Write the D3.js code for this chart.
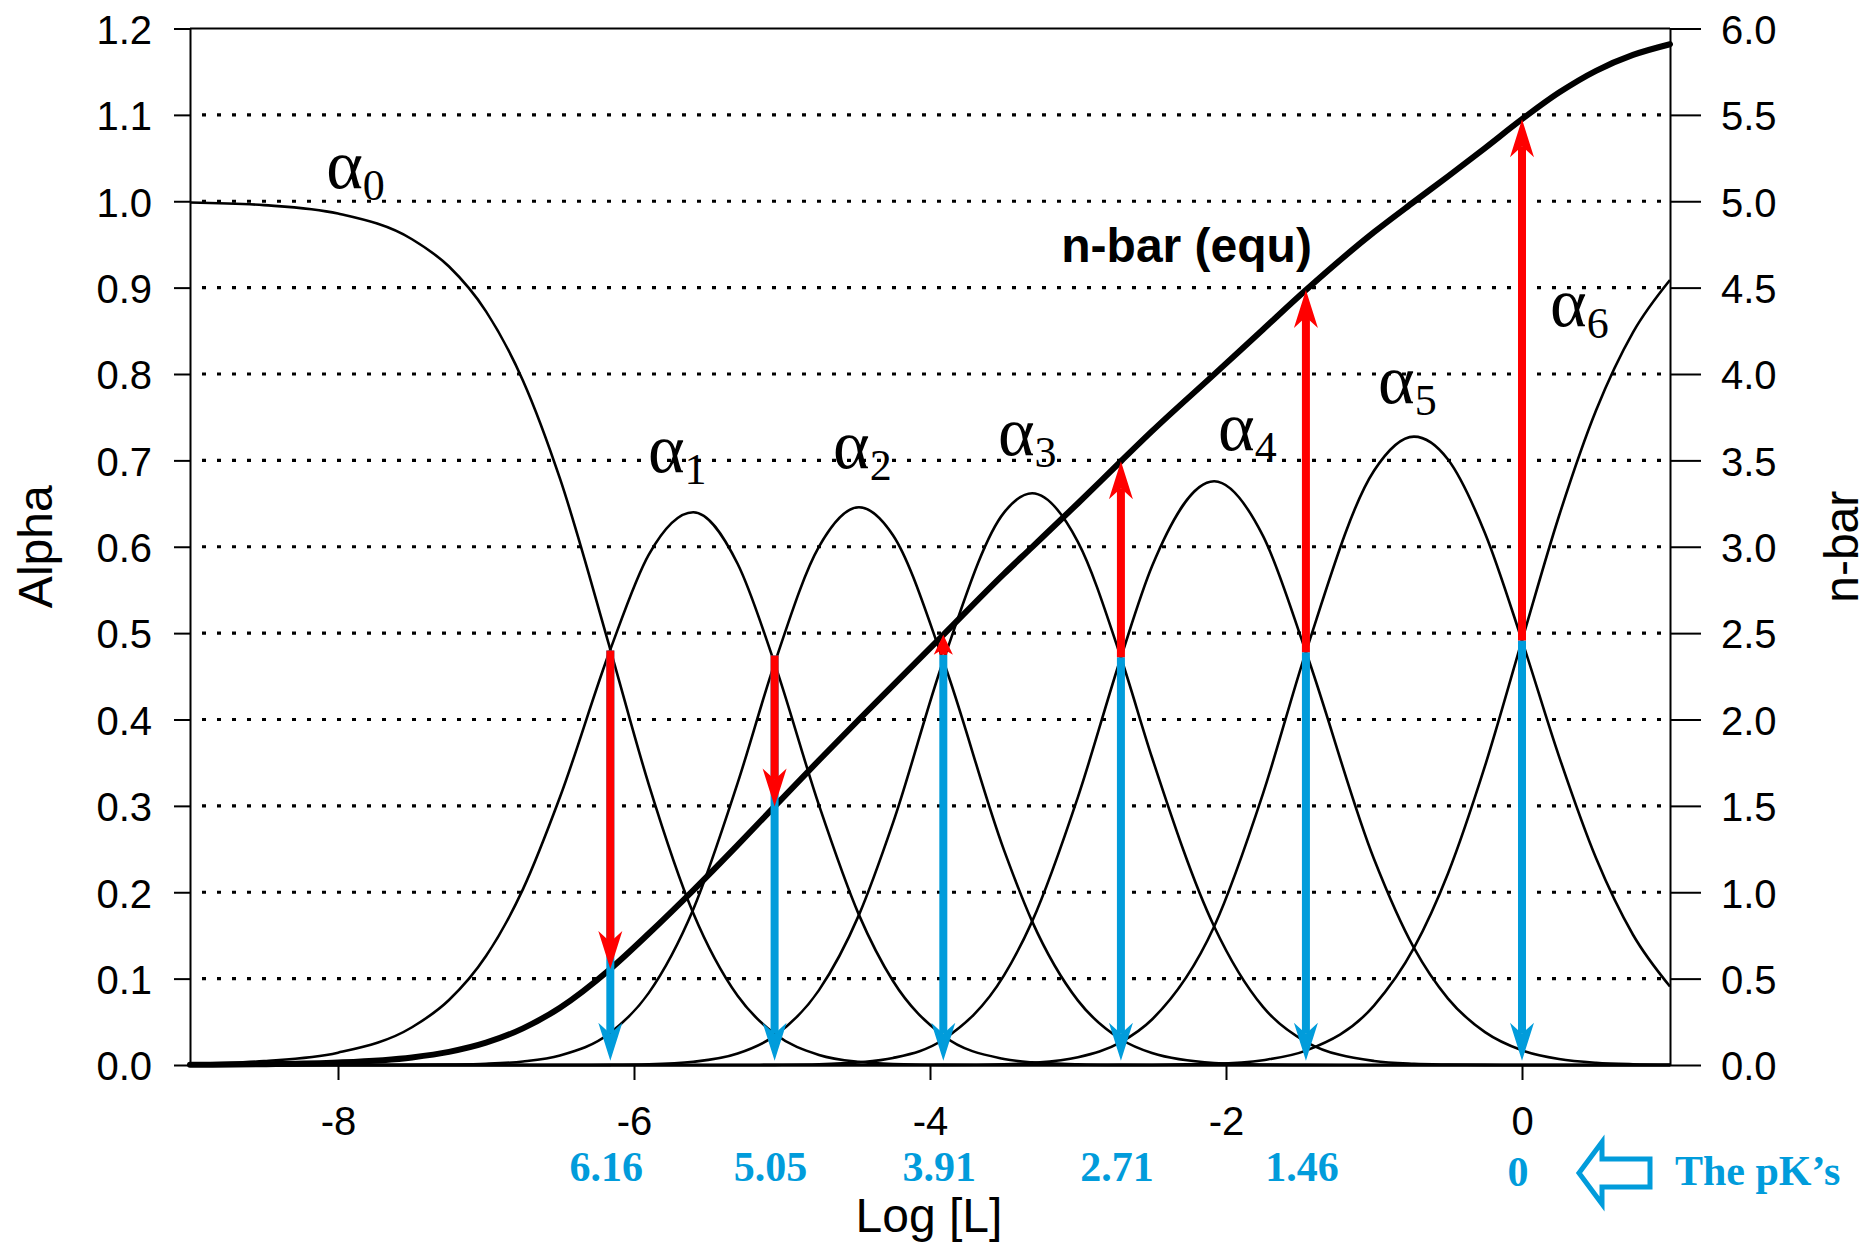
<!DOCTYPE html>
<html>
<head>
<meta charset="utf-8">
<script src="https://cdn.jsdelivr.net/npm/d3@7"></script>
<style>
  body { margin: 0; background: #fff; }
  svg { display: block; }
</style>
</head>
<body>
<svg id="chart"></svg>
<script>
// log [L] sample points and the fractions
const logL = [-9, -8.5, -8, -7.5, -7.25, -7, -6.75, -6.5, -6.16, -5.9, -5.6, -5.3, -5.05, -4.75, -4.48, -4.25,
  -3.91, -3.5, -3.31, -3, -2.71, -2.5, -2.08, -1.75, -1.46, -1, -0.73, -0.5, -0.25, 0, 0.25, 0.5, 0.75, 1];

const alpha0 = [0.9986, 0.9955, 0.9857, 0.956, 0.9244, 0.8725, 0.7923, 0.6788, 0.481, 0.3247, 0.176, 0.0801, 0.0361, 0.0117, 0.0036, 0.0012,
  0.0002, 0, 0, 0, 0, 0, 0, 0, 0, 0, 0, 0, 0, 0, 0, 0, 0, 0];
const alpha1 = [0.0014, 0.0046, 0.0143, 0.0437, 0.0752, 0.1261, 0.2036, 0.3102, 0.481, 0.591, 0.640, 0.5803, 0.465, 0.3007, 0.1738, 0.0972,
  0.0339, 0.0070, 0.003, 0.0007, 0.0001, 0, 0, 0, 0, 0, 0, 0, 0, 0, 0, 0, 0, 0];
const alpha2 = [0, 0, 0, 0.0002, 0.0005, 0.0014, 0.0041, 0.0110, 0.0373, 0.0835, 0.180, 0.3263, 0.465, 0.6001, 0.6458, 0.6133,
  0.468, 0.2488, 0.1663, 0.0745, 0.0298, 0.0139, 0.0024, 0.0005, 0.0001, 0, 0, 0, 0, 0, 0, 0, 0, 0];
const alpha3 = [0, 0, 0, 0, 0, 0, 0, 0, 0.0002, 0.0008, 0.0037, 0.0133, 0.0337, 0.0867, 0.1738, 0.2803,
  0.468, 0.6395, 0.662, 0.6054, 0.4718, 0.356, 0.1603, 0.0672, 0.0269, 0.0047, 0.0014, 0.0005, 0.0001, 0, 0, 0, 0, 0];
const alpha4 = [0, 0, 0, 0, 0, 0, 0, 0, 0, 0, 0, 0, 0.0002, 0.0008, 0.003, 0.0081,
  0.0295, 0.1037, 0.1663, 0.3105, 0.4718, 0.5773, 0.6758, 0.6126, 0.4784, 0.2385, 0.1355, 0.0769, 0.038, 0.017, 0.007, 0.0026, 0.0009, 0.0003];
const alpha5 = [0, 0, 0, 0, 0, 0, 0, 0, 0, 0, 0, 0, 0, 0, 0, 0,
  0.0001, 0.0009, 0.0024, 0.009, 0.0265, 0.0527, 0.1603, 0.3142, 0.4784, 0.688, 0.7275, 0.701, 0.6157, 0.4915, 0.3574, 0.2396, 0.1508, 0.0909];
const alpha6 = [0, 0, 0, 0, 0, 0, 0, 0, 0, 0, 0, 0, 0, 0, 0, 0,
  0, 0, 0, 0, 0.0001, 0.0002, 0.0013, 0.0056, 0.0166, 0.0688, 0.1355, 0.2217, 0.3462, 0.4915, 0.6356, 0.7577, 0.8482, 0.9088];

const nbar = [0.0014, 0.0046, 0.0143, 0.044, 0.076, 0.129, 0.212, 0.332, 0.556, 0.761, 1.011, 1.273, 1.497, 1.764, 2.00, 2.197,
  2.49, 2.843, 2.998, 3.252, 3.495, 3.669, 3.998, 4.258, 4.486, 4.821, 4.997, 5.144, 5.308, 5.475, 5.629, 5.755, 5.847, 5.909];

// the pK's, where neighbouring alphas cross, and n-bar at that point
const pKs = [6.16, 5.05, 3.91, 2.71, 1.46, 0];
const pKLabels = ["6.16", "5.05", "3.91", "2.71", "1.46", "0"];
const crossAlpha = [0.48, 0.474, 0.475, 0.472, 0.478, 0.4915];
const nbarAtPK = [0.556, 1.497, 2.49, 3.495, 4.486, 5.475];

// species labels: subscript and anchor (log L, alpha)
const speciesNames = ["0", "1", "2", "3", "4", "5", "6"];
const labelLogL = [-8.08, -5.906, -4.655, -3.541, -2.054, -0.973, 0.189];
const labelAlpha = [1.015, 0.686, 0.691, 0.706, 0.712, 0.767, 0.856];

const alphaTicks = d3.range(0, 1.21, 0.1);
const nbarTicks = d3.range(0, 6.01, 0.5);
const xTicks = [-8, -6, -4, -2, 0];
const gridAlpha = d3.range(0.1, 1.11, 0.1);

const width = 1868, height = 1242;
const sans = "'Liberation Sans', Arial, Helvetica, sans-serif";
const serif = "'Liberation Serif', 'Times New Roman', Times, serif";
const blue = "#019cdb", red = "#ff0000";

const svg = d3.select("#chart").attr("width", width).attr("height", height);
svg.append("rect").attr("width", width).attr("height", height).attr("fill", "#fff");

const x = d3.scaleLinear().domain([-9, 1]).range([190, 1670]);
const y = d3.scaleLinear().domain([0, 1.2]).range([1065, 28.5]);
const y2 = d3.scaleLinear().domain([0, 6]).range([1065, 28.5]);

// dotted gridlines
svg.append("g").selectAll("line").data(gridAlpha).join("line")
  .attr("x1", x(-9) + 12).attr("x2", x(1) - 8)
  .attr("y1", d => y(d)).attr("y2", d => y(d))
  .attr("stroke", "#000").attr("stroke-width", 3.2)
  .attr("stroke-dasharray", "4 11");

// frame
svg.append("line").attr("x1", x(-9)).attr("x2", x(1)).attr("y1", y(1.2)).attr("y2", y(1.2))
  .attr("stroke", "#000").attr("stroke-width", 2);

const styleAxis = g => {
  g.select(".domain").attr("stroke-width", 2);
  g.selectAll(".tick line").attr("stroke-width", 2);
  g.selectAll(".tick text").attr("font-family", sans).attr("font-size", 40).attr("fill", "#000");
};

svg.append("g").attr("transform", `translate(${x(-9)},0)`)
  .call(d3.axisLeft(y).tickValues(alphaTicks).tickFormat(d3.format(".1f")).tickSize(16).tickSizeOuter(0).tickPadding(22))
  .call(styleAxis)
  .call(g => g.selectAll(".tick text").attr("dy", "0.37em"));

svg.append("g").attr("transform", `translate(${x(1)},0)`)
  .call(d3.axisRight(y2).tickValues(nbarTicks).tickFormat(d3.format(".1f")).tickSize(31).tickSizeOuter(0).tickPadding(20))
  .call(styleAxis)
  .call(g => g.selectAll(".tick text").attr("dy", "0.37em"));

svg.append("g").attr("transform", `translate(0,${y(0)})`)
  .call(d3.axisBottom(x).tickValues(xTicks).tickFormat(d => String(d)).tickSize(15).tickSizeOuter(0).tickPadding(27))
  .call(styleAxis);

// species curves
const species = [alpha0, alpha1, alpha2, alpha3, alpha4, alpha5, alpha6];
const curve = d3.line()
  .x((d, i) => x(logL[i]))
  .y(d => y(d))
  .curve(d3.curveMonotoneX);

svg.append("g").selectAll("path").data(species).join("path")
  .attr("d", curve)
  .attr("fill", "none")
  .attr("stroke", "#000")
  .attr("stroke-width", 2.6)
  .attr("stroke-linejoin", "round");

// n-bar curve on the right axis
const nbarLine = d3.line()
  .x((d, i) => x(logL[i]))
  .y(d => y2(d))
  .curve(d3.curveMonotoneX);

svg.append("path").datum(nbar)
  .attr("d", nbarLine)
  .attr("fill", "none")
  .attr("stroke", "#000")
  .attr("stroke-width", 6)
  .attr("stroke-linecap", "round");

// arrows
const headLen = 38, headHalf = 12, notch = 11, shaftW = 8;
function arrow(g, px, yFrom, yTo, color) {
  const dir = yTo > yFrom ? 1 : -1;
  const len = Math.abs(yTo - yFrom);
  const k = Math.min(1, len / headLen);
  const L = headLen * k, hw = headHalf * Math.max(k, 0.8), n = notch * k;
  g.append("line")
    .attr("x1", px).attr("x2", px)
    .attr("y1", yFrom).attr("y2", yTo - dir * (L - n))
    .attr("stroke", color).attr("stroke-width", shaftW);
  g.append("path")
    .attr("d", `M${px},${yTo} L${px - hw},${yTo - dir * L} L${px},${yTo - dir * (L - n)} L${px + hw},${yTo - dir * L} Z`)
    .attr("fill", color);
}

const arrows = svg.append("g");
pKs.forEach((pk, i) => {
  arrow(arrows, x(-pk), y(crossAlpha[i]), y(0.005), blue);
});
pKs.forEach((pk, i) => {
  arrow(arrows, x(-pk), y(crossAlpha[i]), y2(nbarAtPK[i]), red);
});

// species labels
const lab = svg.append("g");
speciesNames.forEach((s, i) => {
  const t = lab.append("text")
    .attr("x", x(labelLogL[i]))
    .attr("y", y(labelAlpha[i]))
    .attr("font-family", serif)
    .attr("fill", "#000");
  t.append("tspan").attr("font-size", 70).text("α");
  t.append("tspan").attr("font-size", 44).attr("dy", 12).text(s);
});

// n-bar label
svg.append("text")
  .attr("x", x(-3.113)).attr("y", y(0.93))
  .attr("font-family", sans).attr("font-weight", "bold").attr("font-size", 48)
  .text("n-bar (equ)");

// pK labels
svg.append("g").selectAll("text").data(pKs).join("text")
  .attr("x", d => x(-d) - 4)
  .attr("y", (d, i) => i === pKs.length - 1 ? 1186 : 1181)
  .attr("text-anchor", "middle")
  .attr("font-family", serif).attr("font-weight", "bold").attr("font-size", 42)
  .attr("fill", blue)
  .text((d, i) => pKLabels[i]);

// hollow arrow pointing at the pK's
const ax = x(0) + 57, ay = 1173;
svg.append("path")
  .attr("d", `M${ax},${ay} L${ax + 23},${ay - 31} L${ax + 23},${ay - 14} L${ax + 71},${ay - 14} L${ax + 71},${ay + 14} L${ax + 23},${ay + 14} L${ax + 23},${ay + 31} Z`)
  .attr("fill", "#fff").attr("stroke", blue).attr("stroke-width", 5);

svg.append("text")
  .attr("x", x(1) + 5).attr("y", 1185)
  .attr("font-family", serif).attr("font-weight", "bold").attr("font-size", 42)
  .attr("fill", blue)
  .text("The pK’s");

// axis titles
svg.append("text")
  .attr("transform", `translate(52,${(y(0) + y(1.2)) / 2}) rotate(-90)`)
  .attr("text-anchor", "middle")
  .attr("font-family", sans).attr("font-size", 48)
  .text("Alpha");

svg.append("text")
  .attr("transform", `translate(1858,${(y(0) + y(1.2)) / 2}) rotate(-90)`)
  .attr("text-anchor", "middle")
  .attr("font-family", sans).attr("font-size", 48)
  .text("n-bar");

svg.append("text")
  .attr("x", 929).attr("y", 1232)
  .attr("text-anchor", "middle")
  .attr("font-family", sans).attr("font-size", 48)
  .text("Log [L]");
</script>
</body>
</html>
